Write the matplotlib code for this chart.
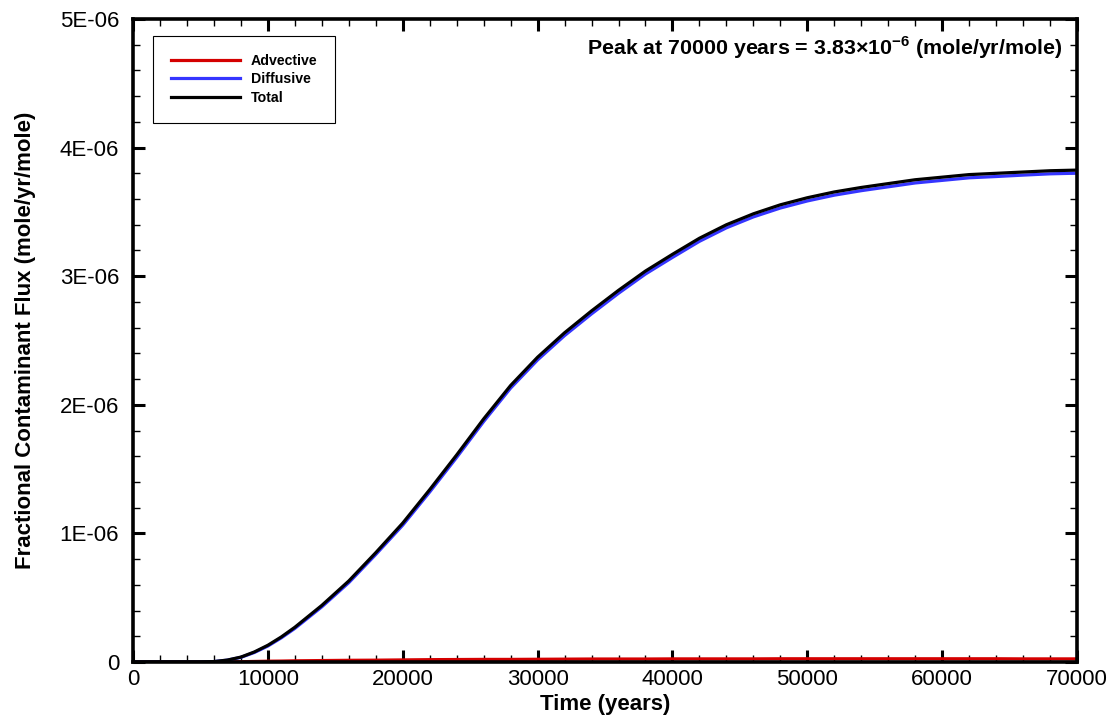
import matplotlib
matplotlib.use("Agg")
import matplotlib.pyplot as plt
from matplotlib.ticker import MultipleLocator, FuncFormatter
from matplotlib import rcParams

rcParams['font.family'] = 'Liberation Sans'
rcParams['mathtext.fontset'] = 'custom'
rcParams['mathtext.rm'] = 'Liberation Sans'
rcParams['mathtext.bf'] = 'Liberation Sans:bold'

# values (flux in units of 1e-6 mole/yr/mole)
time_yr = [0, 2000, 4000, 5000, 6000, 7000, 8000, 9000, 10000, 11000, 12000,
           14000, 16000, 18000, 20000, 22000, 24000, 26000, 28000, 30000,
           32000, 34000, 36000, 38000, 40000, 42000, 44000, 46000, 48000,
           50000, 52000, 54000, 56000, 58000, 60000, 62000, 64000, 66000,
           68000, 70000]
total = [0, 0, 0, 0, 0.003, 0.015, 0.038, 0.078, 0.13, 0.195, 0.27,
         0.44, 0.63, 0.85, 1.08, 1.34, 1.61, 1.89, 2.15, 2.37,
         2.56, 2.73, 2.89, 3.04, 3.17, 3.295, 3.40, 3.485, 3.555,
         3.61, 3.655, 3.69, 3.72, 3.75, 3.77, 3.79, 3.80, 3.81,
         3.82, 3.825]
diffusive = [0, 0, 0, 0, 0.003, 0.014, 0.036, 0.074, 0.124, 0.188, 0.261,
             0.429, 0.617, 0.836, 1.064, 1.322, 1.591, 1.87, 2.13, 2.349,
             2.538, 2.707, 2.867, 3.017, 3.146, 3.271, 3.376, 3.461, 3.53,
             3.585, 3.63, 3.665, 3.695, 3.725, 3.745, 3.765, 3.775, 3.786,
             3.796, 3.801]
advective = [0, 0, 0, 0, 0, 0.001, 0.002, 0.004, 0.006, 0.007, 0.009,
             0.011, 0.013, 0.014, 0.016, 0.018, 0.019, 0.02, 0.02, 0.021,
             0.022, 0.023, 0.023, 0.023, 0.024, 0.024, 0.024, 0.024, 0.025,
             0.025, 0.025, 0.025, 0.025, 0.025, 0.025, 0.025, 0.025, 0.024,
             0.024, 0.024]

fig = plt.figure(figsize=(11.17, 7.28), dpi=100)
# axes frame: x 133..1077 px, y 19..662 px
ax = fig.add_axes([0.1191, 0.0907, 0.8451, 0.8832])

ax.plot(time_yr, [v * 1e-6 for v in advective], color='#d40000', lw=2.3, label='Advective')
ax.plot(time_yr, [v * 1e-6 for v in diffusive], color='#3535ff', lw=2.3, label='Diffusive')
ax.plot(time_yr, [v * 1e-6 for v in total], color='black', lw=2.3, label='Total')

ax.set_xlim(0, 70000)
ax.set_ylim(0, 5e-6)
ax.xaxis.set_major_locator(MultipleLocator(10000))
ax.xaxis.set_minor_locator(MultipleLocator(2000))
ax.yaxis.set_major_locator(MultipleLocator(1e-6))
ax.yaxis.set_minor_locator(MultipleLocator(2e-7))
ax.yaxis.set_major_formatter(FuncFormatter(lambda v, p: '0' if abs(v) < 1e-12 else '%dE-06' % round(v * 1e6)))

for s in ax.spines.values():
    s.set_linewidth(2.6)
ax.tick_params(which='both', direction='in', top=True, right=True, labelsize=16)
ax.tick_params(which='major', length=8.5, width=2.2)
ax.tick_params(which='minor', length=5, width=1.0)
ax.tick_params(axis='x', which='major', pad=5)
ax.tick_params(axis='y', which='major', pad=10)

ax.set_xlabel('Time (years)', fontsize=16, fontweight='bold', labelpad=3)
ax.set_ylabel('Fractional Contaminant Flux (mole/yr/mole)', fontsize=16, fontweight='bold', labelpad=17)

leg = ax.legend(loc='upper left', bbox_to_anchor=(0.021, 0.9735),
                prop={'weight': 'bold', 'size': 10.2}, handlelength=4.9,
                fancybox=False, edgecolor='black', framealpha=1,
                borderpad=1.25, labelspacing=0.32, handletextpad=0.75,
                borderaxespad=0)
leg.get_frame().set_linewidth(0.8)

ax.text(0.9845, 0.955, 'Peak at 70000 years = 3.83\u00d710$^{\\mathbf{-6}}$ (mole/yr/mole)',
        transform=ax.transAxes, ha='right', va='center', fontsize=15.4, fontweight='bold')

fig.savefig('out.png', dpi=100)
